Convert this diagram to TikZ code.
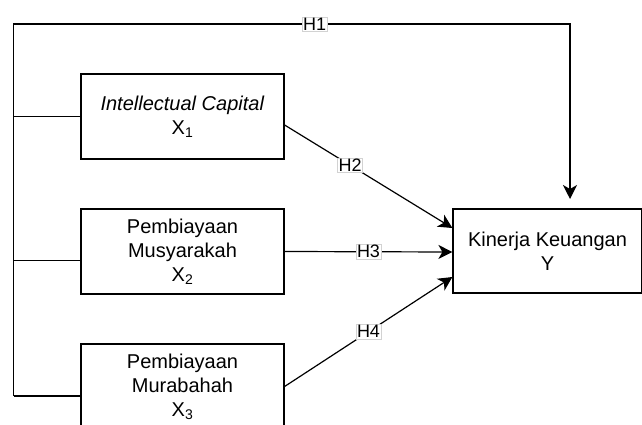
\documentclass[tikz,border=0pt]{standalone}
\usepackage{fontspec}
\setmainfont{Liberation Sans}
\usetikzlibrary{arrows.meta, positioning, calc}

\begin{document}
\begin{tikzpicture}[
    x=1pt, y=-1pt,
    var/.style={rectangle, draw, line width=1.2pt, minimum width=203pt, minimum height=85pt, align=center, font=\fontsize{20}{24}\selectfont},
    hyp/.style={fill=white, draw=gray!35, line width=0.6pt, inner sep=1pt, font=\fontsize{18}{18}\selectfont},
    link/.style={line width=1.2pt},
    effect/.style={line width=1.2pt, -{Stealth[length=14pt, width=14pt, inset=4pt]}}
]
    \clip (0,0) rectangle (642,425);
    % variabel
    \node[var] (x1) at (182.5,116.5) {\textit{Intellectual Capital}\\X\textsubscript{1}};
    \node[var] (x2) at (182.5,251.5) {Pembiayaan\\Musyarakah\\X\textsubscript{2}};
    \node[var] (x3) at (182.5,386.5) {Pembiayaan\\Murabahah\\X\textsubscript{3}};
    \node[var, minimum width=189pt, minimum height=84pt] (y) at (547.5,251) {Kinerja Keuangan\\Y};
    % H1
    \coordinate (bottom) at (13.5,396);
    \coordinate (top) at (13.5,24);
    \coordinate (corner) at (570,24);
    \coordinate (tip) at (570,199);
    \draw[link] (x1.west) -- (x1.west -| top);
    \draw[link] ([yshift=-9pt]x2.west) -- ([yshift=-9pt]x2.west -| top);
    \draw[link] ([yshift=-9.5pt]x3.west) -- (bottom);
    \draw[effect] (bottom) -- (top) -- node[hyp, pos=0.541] {H1} (corner) -- (tip);
    % H2 - H4
    \draw[effect] ([yshift=-8.5pt]x1.east) -- node[hyp, pos=0.39] {H2} ([yshift=23pt]y.west);
    \draw[effect] (x2.east) -- node[hyp] {H3} ([yshift=-1pt]y.west);
    \draw[effect] (x3.east) -- node[hyp] {H4} ([yshift=-26pt]y.west);
\end{tikzpicture}
\end{document}
